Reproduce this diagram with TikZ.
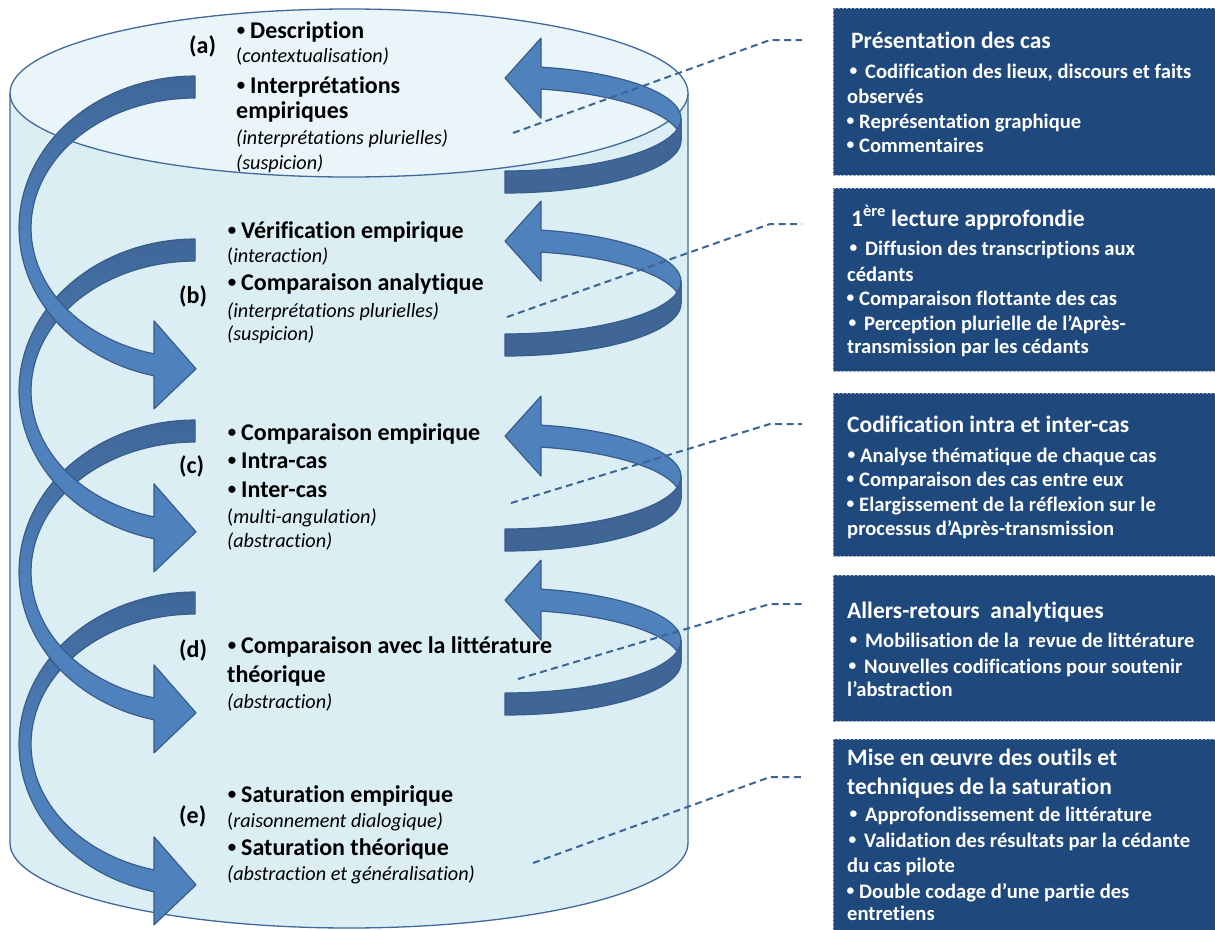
\documentclass[tikz,border=0pt]{standalone}
\usepackage{graphicx}
\usepackage{fontspec}
\setmainfont{Carlito}[Ligatures=NoCommon]
\definecolor{cylbody}{HTML}{DBEEF4}
\definecolor{cyltop}{HTML}{EAF5F9}
\definecolor{cylB}{HTML}{41699B}
\definecolor{ribL}{HTML}{4F81BD}
\definecolor{ribD}{HTML}{3F6697}
\definecolor{ribB}{HTML}{385D8A}
\definecolor{boxF}{HTML}{1F497D}
\definecolor{boxB}{HTML}{9AADC6}
\definecolor{dashC}{HTML}{3B6597}
\newcommand{\RRib}[1]{%
  \path[fill=ribL, draw=ribB, line width=1.2pt, line join=round]
    (505,#1-40.4) -- (541,#1-80.4) -- (541,#1-51.4)
    -- plot[domain=-78.2:0, samples=30, variable=\q] ({505+176*cos(\q)},{#1+52.5*sin(\q)})
    -- plot[domain=0:-78.2, samples=30, variable=\q] ({505+176*cos(\q)},{#1+22+52.5*sin(\q)})
    -- (541,#1-0.4) -- cycle;
  \path[fill=ribD, draw=ribB, line width=1.2pt, line join=round]
    plot[domain=0:90, samples=30, variable=\q] ({505+176*cos(\q)},{#1+52.5*sin(\q)})
    -- plot[domain=90:0, samples=30, variable=\q] ({505+176*cos(\q)},{#1+22+52.5*sin(\q)})
    -- cycle;
}
\newcommand{\LRib}[1]{%
  \path[draw=ribB, line width=1.2pt, line join=round, top color=ribD, bottom color=ribL, middle color=ribL]
    plot[domain=-90:-256.5, samples=60, variable=\q] ({195+176*cos(\q)},{#1+152*sin(\q)})
    -- (154,#1+180.85) -- (196,#1+140.85) -- (154,#1+92.85)
    -- plot[domain=-255.5:-90, samples=60, variable=\q] ({195+164*cos(\q)},{#1+130*sin(\q)})
    -- cycle;
}
\newcommand{\bulL}{\llap{\raisebox{3pt}{\scalebox{0.7}{•}}\hspace{5pt}}}
\newcommand{\bulB}[1]{\llap{\raisebox{2.5pt}{\scalebox{0.75}{•}}\hspace{#1}}}
\tikzset{
  lb/.style={anchor=base west, inner sep=0pt, font=\fontsize{24}{28}\selectfont\bfseries},
  li/.style={anchor=base west, inner sep=0pt, font=\fontsize{20.2}{24}\selectfont\itshape},
  bt/.style={anchor=base west, inner sep=0pt, text=white, font=\fontsize{23.5}{28}\selectfont\bfseries},
  bb/.style={anchor=base west, inner sep=0pt, text=white, font=\fontsize{20.6}{24}\selectfont\bfseries},
  boxst/.style={fill=boxF, draw=boxB, line width=0.8pt, dash pattern=on 2.5pt off 1.5pt, anchor=north west, inner sep=0pt, minimum width=400pt},
  dashln/.style={draw=dashC, line width=2pt, dash pattern=on 7pt off 4.5pt}
}
\begin{document}
\begin{tikzpicture}[x=1pt,y=-1pt]
\useasboundingbox (0,0) rectangle (1215,929);
% cylinder
\path[fill=cylbody, draw=cylB, line width=1.3pt] (10,93) -- (10,843)
  -- plot[domain=180:0, samples=80, variable=\q] ({349+339*cos(\q)},{843+85*sin(\q)}) -- (688,93);
\path[fill=cyltop, draw=cylB, line width=1.3pt] (349,93) ellipse [x radius=339, y radius=84];
% left ribbons
\LRib{744}
\LRib{572}
\LRib{391}
\LRib{228}
% right ribbons
\RRib{118.5}
\RRib{281.5}
\RRib{476.5}
\RRib{640.5}
% left texts
\node[lb] (labA) at (189,53) {(a)};
\node[lb] (la1) at (250,38) {\bulL Description};
\node[li] (la2) at (236,62) {{\upshape(}contextualisation)};
\node[lb] (la3) at (250,93) {\bulL Interprétations};
\node[lb] (la4) at (236,118) {empiriques};
\node[li] (la5) at (236,144) {(interprétations plurielles)};
\node[li] (la6) at (236,169) {(suspicion)};
\node[lb] (labB) at (179,303) {(b)};
\node[lb] (lb1) at (241,238) {\bulL Vérification empirique};
\node[li] (lb2) at (227,262) {{\upshape(}interaction)};
\node[lb] (lb3) at (241,290) {\bulL Comparaison analytique};
\node[li] (lb4) at (227,317) {(interprétations plurielles)};
\node[li] (lb5) at (227,340) {(suspicion)};
\node[lb] (labC) at (179,473) {(c)};
\node[lb] (lc1) at (241,440) {\bulL Comparaison empirique};
\node[lb] (lc2) at (241,468) {\bulL Intra-cas};
\node[lb] (lc3) at (241,497) {\bulL Inter-cas};
\node[li] (lc4) at (227,523) {{\upshape(}multi-angulation)};
\node[li] (lc5) at (227,547) {(abstraction)};
\node[lb] (labD) at (179,657) {(d)};
\node[lb] (ld1) at (241,653) {\bulL Comparaison avec la littérature};
\node[lb] (ld2) at (227,682) {théorique};
\node[li] (ld3) at (227,708) {(abstraction)};
\node[lb] (labE) at (179,823) {(e)};
\node[lb] (le1) at (241,802) {\bulL Saturation empirique};
\node[li] (le2) at (227,827) {{\upshape(}raisonnement dialogique)};
\node[lb] (le3) at (241,855) {\bulL Saturation théorique};
\node[li] (le4) at (227,880) {(abstraction et généralisation)};
% boxes
\node[boxst, minimum height=167pt] (box1) at (833,8) {};
\node[boxst, minimum height=183pt] (box2) at (833,188) {};
\node[boxst, minimum height=163pt] (box3) at (833,393) {};
\node[boxst, minimum height=146pt] (box4) at (833,575) {};
\node[boxst, minimum height=250pt] (box5) at (833,739) {};
% box texts
\node[bt] (t11) at (851,48) {Présentation des cas};
\node[bb] (t12) at (865,78) {\bulB{8pt}Codification des lieux, discours et faits};
\node[bb] (t13) at (847,103) {observés};
\node[bb] (t14) at (859,128) {\bulB{5pt}Représentation graphique};
\node[bb] (t15) at (859,152) {\bulB{5pt}Commentaires};
\node[bt] (t21) at (851,226) {1\textsuperscript{ère} lecture approfondie};
\node[bb] (t22) at (865,255) {\bulB{8pt}Diffusion des transcriptions aux};
\node[bb] (t23) at (847,281) {cédants};
\node[bb] (t24) at (859,305) {\bulB{5pt}Comparaison flottante des cas};
\node[bb] (t25) at (864,330) {\bulB{8pt}Perception plurielle de l’Après-};
\node[bb] (t26) at (847,353) {transmission par les cédants};
\node[bt] (t31) at (847,432) {Codification intra et inter-cas};
\node[bb] (t32) at (860,462) {\bulB{5pt}Analyse thématique de chaque cas};
\node[bb] (t33) at (859,486) {\bulB{5pt}Comparaison des cas entre eux};
\node[bb] (t34) at (859,511) {\bulB{5pt}Elargissement de la réflexion sur le};
\node[bb] (t35) at (847,535) {processus d’Après-transmission};
\node[bt] (t41) at (847,618) {Allers-retours\ \ analytiques};
\node[bb] (t42) at (865,647) {\bulB{8pt}Mobilisation de la\ \ revue de littérature};
\node[bb] (t43) at (864,673) {\bulB{8pt}Nouvelles codifications pour soutenir};
\node[bb] (t44) at (847,696) {l’abstraction};
\node[bt] (t51) at (847,765) {Mise en œuvre des outils et};
\node[bt] (t52) at (847,794) {techniques de la saturation};
\node[bb] (t53) at (865,821) {\bulB{8pt}Approfondissement de littérature};
\node[bb] (t54) at (864,847) {\bulB{8pt}Validation des résultats par la cédante};
\node[bb] (t55) at (847,872) {du cas pilote};
\node[bb] (t56) at (859,898) {\bulB{5pt}Double codage d’une partie des};
\node[bb] (t57) at (847,920) {entretiens};
% connectors
\coordinate (ca1) at (513,133); \coordinate (ka1) at (770,40); \coordinate (ea1) at (802,40);
\coordinate (cb1) at (507,317); \coordinate (kb1) at (770,224); \coordinate (eb1) at (802,224);
\coordinate (cc1) at (511,503); \coordinate (kc1) at (770,424); \coordinate (ec1) at (802,424);
\coordinate (cd1) at (518,679); \coordinate (kd1) at (770,604); \coordinate (ed1) at (802,604);
\coordinate (ce1) at (533,863); \coordinate (ke1) at (770,777); \coordinate (ee1) at (802,777);
\draw[dashln] (ca1) -- (ka1) -- (ea1);
\draw[dashln] (cb1) -- (kb1) -- (eb1);
\draw[dashln] (cc1) -- (kc1) -- (ec1);
\draw[dashln] (cd1) -- (kd1) -- (ed1);
\draw[dashln] (ce1) -- (ke1) -- (ee1);
\end{tikzpicture}
\end{document}
